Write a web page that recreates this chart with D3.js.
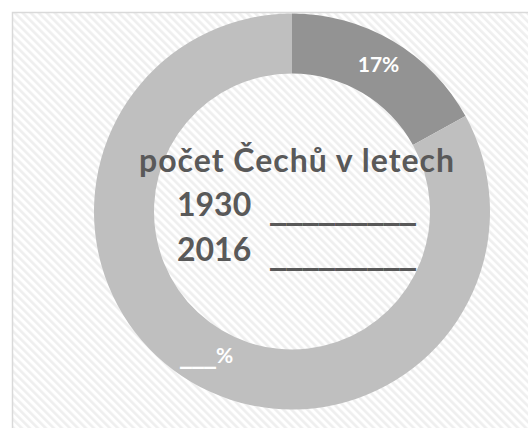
<!DOCTYPE html>
<html>
<head>
<meta charset="utf-8">
<script src="https://cdn.jsdelivr.net/npm/d3@7"></script>
<style>
  html, body { margin: 0; padding: 0; background: #fff; }
  #chart { width: 528px; height: 428px; }
</style>
</head>
<body>
<div id="chart"></div>
<script>
// slice data
const sliceNames = ['1930 podíl', 'zbytek'];
const sliceValues = [17, 83];
const sliceLabels = ['17%', '___%'];
const sliceColors = ['#939393', '#bfbfbf'];

// centre text
const titleLine = 'počet Čechů v letech';
const yearLabels = ['1930', '2016'];
const blankLine = '_________';

const W = 528, H = 428;
const cx = 292, cy = 211.5;
const outerR = 198, innerR = 138;

const txtFont = 'Lato, "Open Sans", sans-serif';
const lineFont = '"DejaVu Sans", sans-serif';

const svg = d3.select('#chart')
  .append('svg')
  .attr('width', W)
  .attr('height', H);

// diagonal hatch background
const defs = svg.append('defs');
const pat = defs.append('pattern')
  .attr('id', 'hatch')
  .attr('patternUnits', 'userSpaceOnUse')
  .attr('width', 5.66)
  .attr('height', 5.66)
  .attr('patternTransform', 'rotate(-45)');
pat.append('rect')
  .attr('width', 5.66).attr('height', 5.66)
  .attr('fill', '#ffffff');
pat.append('rect')
  .attr('width', 2.6).attr('height', 5.66)
  .attr('fill', '#efefef');

svg.append('rect')
  .attr('x', 12.5).attr('y', 12.5)
  .attr('width', W).attr('height', H)
  .attr('fill', 'url(#hatch)')
  .attr('stroke', '#d9d9d9')
  .attr('stroke-width', 1.5);

const g = svg.append('g')
  .attr('transform', `translate(${cx},${cy})`);

const pie = d3.pie().sort(null).value(d => d);
const arcs = pie(sliceValues);
const arc = d3.arc().innerRadius(innerR).outerRadius(outerR);

g.selectAll('path.slice')
  .data(arcs)
  .join('path')
  .attr('class', 'slice')
  .attr('d', arc)
  .attr('fill', (d, i) => sliceColors[i]);

// slice labels
const labelR = [170, 168];
const lbl = g.selectAll('text.lbl')
  .data(arcs)
  .join('text')
  .attr('class', 'lbl')
  .attr('x', (d, i) => Math.sin((d.startAngle + d.endAngle) / 2) * labelR[i])
  .attr('y', (d, i) => -Math.cos((d.startAngle + d.endAngle) / 2) * labelR[i] + 7)
  .attr('text-anchor', 'middle')
  .style('font-family', txtFont)
  .style('font-weight', 'bold')
  .style('font-size', '21px')
  .attr('fill', '#ffffff');

lbl.each(function (d, i) {
  const t = d3.select(this);
  const s = sliceLabels[i];
  const m = s.match(/^(_*)(.*)$/);
  if (m[1]) {
    t.append('tspan')
      .style('font-family', lineFont)
      .style('font-weight', 'bold')
      .style('font-size', '24px')
      .text(m[1]);
  }
  t.append('tspan').text(m[2]);
});

// centre text
svg.append('text')
  .attr('x', 139)
  .attr('y', 172)
  .attr('textLength', 315)
  .attr('lengthAdjust', 'spacing')
  .style('font-family', txtFont)
  .style('font-weight', 'bold')
  .style('font-size', '32px')
  .attr('fill', '#595959')
  .text(titleLine);

yearLabels.forEach((yr, i) => {
  const base = 216 + i * 45;
  svg.append('text')
    .attr('x', 177)
    .attr('y', base)
    .style('font-family', txtFont)
    .style('font-weight', 'bold')
    .style('font-size', '32px')
    .attr('fill', '#595959')
    .text(yr);
  svg.append('text')
    .attr('x', 270)
    .attr('y', base + 2)
    .attr('textLength', 146)
    .attr('lengthAdjust', 'spacingAndGlyphs')
    .style('font-family', lineFont)
    .style('font-weight', 'bold')
    .style('font-size', '32px')
    .attr('fill', '#595959')
    .text(blankLine);
});
</script>
</body>
</html>
